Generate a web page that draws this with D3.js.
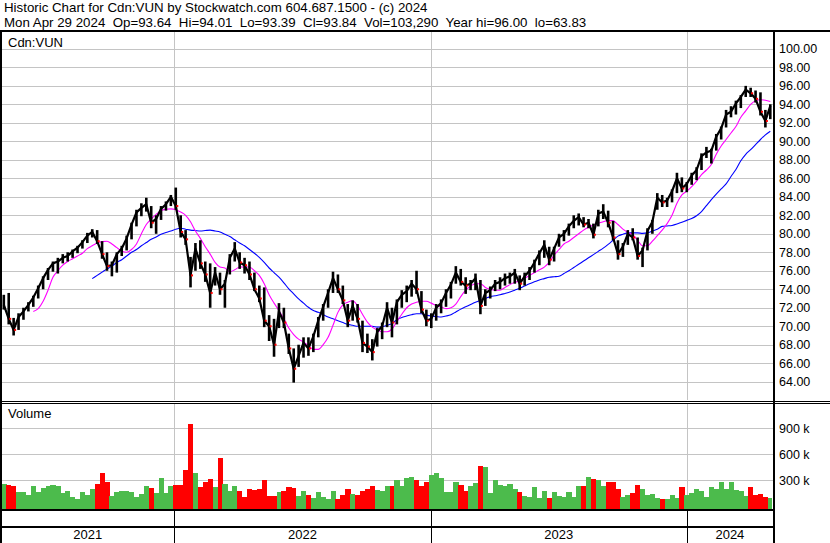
<!DOCTYPE html>
<html lang="en">
<head>
<meta charset="utf-8" />
<title>Historic Chart for Cdn:VUN</title>
<script src="https://cdn.jsdelivr.net/npm/d3@7"></script>
<style>
  body { margin: 0; background: #fff; }
  svg  { display: block; font-family: "Liberation Sans", Arial, sans-serif; }
  .hdr { font-size: 13.3px; fill: #000; white-space: pre; }
  .lbl { font-size: 13px; fill: #000; }
  .axis text { font-size: 12.5px; fill: #000; font-family: "Liberation Sans", Arial, sans-serif; }
  .axis path, .axis line { display: none; }
  .grid { stroke: #c4c4c4; stroke-width: 1; shape-rendering: crispEdges; }
  .frame { stroke: #000; shape-rendering: crispEdges; }
</style>
</head>
<body>
<svg id="chart" width="830" height="543"></svg>
<script>
// weekly bars, first point = week of May 3 2021, last = Apr 29 2024
const firstWeek = new Date(2021, 4, 3);

const highs = [
  73.4, 73.6, 70.9, 71.4, 72.0, 72.6, 73.3, 74.4, 75.4, 76.3,
  77.0, 77.4, 77.8, 78.0, 78.3, 78.7, 79.3, 80.1, 80.5, 80.4,
  79.2, 78.0, 77.0, 78.0, 78.7, 79.8, 81.2, 82.6, 83.3, 83.9,
  83.0, 82.0, 83.0, 83.5, 84.2, 85.0, 82.0, 80.4, 77.5, 79.0,
  79.3, 77.0, 76.8, 76.4, 75.8, 75.0, 77.8, 79.1, 78.0, 77.4,
  77.0, 75.8, 74.4, 74.2, 71.2, 70.8, 72.5, 72.0, 69.2, 67.6,
  68.0, 68.8, 68.8, 69.2, 71.0, 72.4, 74.0, 75.9, 75.6, 74.4,
  72.4, 72.8, 72.4, 70.6, 69.2, 68.6, 69.8, 70.4, 72.6, 72.0,
  72.9, 73.9, 74.4, 75.0, 76.0, 73.8, 71.8, 71.4, 72.4, 72.9,
  74.0, 74.8, 76.5, 76.2, 75.3, 75.0, 75.7, 75.0, 74.0, 74.3,
  75.0, 75.3, 75.7, 75.8, 76.2, 75.5, 75.8, 76.4, 77.2, 78.2,
  79.3, 78.6, 78.6, 80.0, 80.4, 81.1, 82.0, 82.2, 81.8, 81.6,
  81.1, 82.6, 83.2, 82.5, 81.4, 79.3, 79.0, 80.4, 80.6, 79.6,
  78.5, 80.6, 81.5, 84.4, 84.2, 83.9, 84.8, 86.6, 86.1, 85.6,
  86.6, 87.2, 88.7, 89.4, 89.2, 90.8, 91.6, 93.4, 93.8, 94.4,
  95.0, 96.0, 95.8, 95.5, 95.3, 93.4, 94.01
];
const lows = [
  71.8, 70.2, 69.0, 69.6, 70.7, 71.6, 72.1, 73.0, 74.0, 75.0,
  75.9, 75.7, 76.8, 77.0, 77.4, 77.9, 78.4, 79.0, 79.6, 78.9,
  77.3, 76.0, 75.4, 75.8, 77.6, 78.2, 79.4, 80.8, 81.9, 82.4,
  80.6, 80.0, 81.5, 82.5, 83.0, 82.6, 79.6, 78.8, 74.2, 76.0,
  76.2, 74.8, 72.0, 74.4, 73.4, 72.0, 75.6, 77.0, 76.2, 75.7,
  75.0, 73.8, 72.6, 69.9, 68.4, 66.7, 69.8, 69.8, 67.0, 63.9,
  65.6, 66.6, 66.8, 67.2, 68.8, 70.6, 72.0, 73.6, 73.6, 72.4,
  69.9, 70.6, 70.4, 67.2, 67.1, 66.3, 67.8, 68.6, 69.9, 68.8,
  70.2, 72.0, 72.6, 73.2, 73.5, 71.4, 70.0, 69.8, 70.6, 71.4,
  72.1, 73.0, 74.6, 74.4, 73.5, 73.9, 73.9, 71.3, 72.2, 73.0,
  73.8, 74.0, 74.4, 74.6, 74.6, 73.9, 74.4, 75.0, 75.8, 76.6,
  77.4, 76.6, 77.0, 78.6, 79.2, 79.8, 80.6, 80.9, 80.7, 80.6,
  79.5, 80.8, 81.6, 80.7, 79.3, 77.2, 77.5, 78.8, 79.3, 77.2,
  76.4, 78.2, 80.0, 82.6, 82.9, 82.9, 83.4, 84.4, 84.5, 84.5,
  85.3, 85.8, 86.9, 88.2, 87.6, 89.0, 90.2, 91.5, 92.6, 92.9,
  93.6, 94.8, 94.8, 94.2, 92.8, 91.5, 92.4
];
const closes = [
  72.3, 70.8, 69.6, 71.0, 71.6, 72.3, 73.1, 74.1, 75.2, 76.1,
  76.8, 77.0, 77.4, 77.6, 78.1, 78.5, 79.1, 79.8, 80.2, 79.2,
  77.8, 76.5, 76.6, 77.8, 78.4, 79.5, 81.0, 82.3, 82.8, 83.2,
  81.2, 81.6, 82.7, 83.2, 84.0, 83.0, 80.2, 79.4, 75.5, 78.4,
  76.8, 75.6, 73.6, 75.8, 74.0, 74.6, 77.4, 78.4, 76.9, 76.6,
  75.6, 74.0, 73.0, 70.6, 70.0, 68.0, 71.6, 70.4, 67.6, 65.4,
  66.8, 68.2, 67.6, 68.9, 70.6, 72.1, 73.6, 75.2, 74.0, 72.8,
  70.6, 72.2, 70.8, 68.2, 67.8, 67.2, 69.4, 70.0, 72.0, 70.4,
  72.6, 73.4, 73.8, 74.6, 74.0, 71.8, 70.6, 70.8, 72.0, 72.5,
  73.6, 74.5, 75.8, 74.8, 74.4, 74.6, 75.2, 72.2, 73.6, 73.9,
  74.6, 74.8, 75.2, 75.4, 75.8, 74.6, 75.4, 76.0, 76.9, 77.9,
  78.8, 77.2, 78.4, 79.6, 80.0, 80.8, 81.4, 81.8, 81.0, 81.2,
  79.9, 82.2, 82.4, 81.2, 79.6, 77.8, 78.6, 80.0, 79.6, 77.6,
  78.2, 80.3, 81.3, 83.9, 83.4, 83.6, 84.6, 86.0, 84.9, 85.4,
  86.3, 86.9, 88.4, 88.8, 89.0, 90.5, 91.4, 92.9, 93.2, 94.1,
  94.8, 95.6, 95.2, 94.6, 93.2, 92.2, 93.84
];
// thousands of shares
const volumes = [
  260, 250, 230, 160, 170, 130, 240, 160, 210, 230,
  250, 240, 150, 180, 110, 90, 170, 130, 200, 260,
  380, 280, 120, 170, 180, 180, 170, 110, 140, 230,
  210, 150, 330, 150, 240, 250, 250, 420, 950, 380,
  220, 280, 320, 220, 560, 260, 180, 240, 180, 110,
  200, 190, 200, 300, 120, 120, 160, 180, 220, 210,
  120, 180, 130, 100, 160, 110, 90, 180, 90, 130,
  200, 140, 130, 180, 200, 240, 190, 180, 230, 240,
  300, 230, 330, 340, 300, 240, 280, 360, 380, 330,
  160, 170, 280, 250, 180, 240, 270, 460, 450, 150,
  300, 250, 230, 260, 200, 160, 120, 110, 220, 100,
  180, 100, 170, 120, 110, 170, 110, 230, 240, 340,
  320, 300, 240, 280, 280, 200, 110, 130, 150, 250,
  200, 130, 140, 100, 90, 90, 130, 100, 220, 130,
  150, 200, 180, 110, 220, 200, 280, 200, 280, 190,
  180, 120, 220, 130, 140, 110, 100
];
const maFast = [
  null, null, null, null, null, null, 71.6, 71.9, 72.7, 73.9,
  75.3, 76.0, 76.6, 77.0, 77.3, 77.6, 77.9, 78.4, 78.7, 79.0,
  79.15, 79.2, 78.9, 78.5, 78.15, 78.0, 78.3, 78.9, 80.0, 81.0,
  81.6, 82.1, 82.5, 82.65, 82.7, 82.6, 82.35, 82.0, 81.3, 80.3,
  79.5, 78.6, 77.8, 76.9, 76.4, 76.3, 75.9, 76.1, 76.4, 76.4,
  76.4, 76.0, 75.5, 74.6, 73.4, 72.5, 71.7, 70.8, 69.8, 69.1,
  68.6, 68.3, 67.9, 67.5, 67.5, 68.0, 68.8, 70.1, 71.5, 72.3,
  72.6, 72.75, 72.2, 71.3, 70.45, 69.9, 69.6, 69.4, 69.4, 69.7,
  70.5, 71.3, 72.0, 72.4, 72.6, 72.7, 72.7, 72.5, 72.25, 72.1,
  71.9, 72.0, 72.4, 73.2, 73.9, 74.35, 74.6, 74.6, 74.2, 74.0,
  73.9, 73.9, 74.2, 74.5, 74.75, 74.9, 75.2, 75.5, 75.8, 76.1,
  76.4, 76.9, 77.7, 78.3, 78.9, 79.2, 79.6, 80.0, 80.4, 80.7,
  80.95, 81.15, 81.3, 81.45, 81.4, 81.0, 80.5, 80.15, 79.9, 79.3,
  78.7, 78.7, 79.2, 79.8, 80.4, 81.1, 82.0, 83.3, 84.2, 84.6,
  85.1, 85.7, 86.4, 86.9, 87.5, 88.6, 89.5, 90.2, 90.9, 91.6,
  92.6, 93.3, 94.0, 94.4, 94.5, 94.45, 94.3
];
const maSlow = [
  null, null, null, null, null, null, null, null, null, null,
  null, null, null, null, null, null, null, null, 75.15, 75.5,
  75.85, 76.2, 76.5, 76.9, 77.2, 77.6, 78.0, 78.3, 78.7, 79.05,
  79.4, 79.65, 79.95, 80.15, 80.3, 80.5, 80.6, 80.5, 80.4, 80.35,
  80.3, 80.35, 80.4, 80.3, 80.2, 79.95, 79.7, 79.35, 79.0, 78.7,
  78.3, 77.9, 77.45, 76.9, 76.3, 75.8, 75.3, 74.7, 74.05, 73.5,
  72.95, 72.5, 72.05, 71.7, 71.5, 71.25, 71.0, 70.8, 70.6, 70.4,
  70.2, 70.1, 70.0, 70.0, 70.0, 70.0, 69.9, 69.95, 70.1, 70.3,
  70.7, 70.95, 71.1, 71.25, 71.35, 71.35, 71.2, 71.1, 71.05, 71.0,
  71.1, 71.25, 71.55, 71.85, 72.1, 72.35, 72.6, 72.8, 73.0, 73.2,
  73.3, 73.4, 73.55, 73.7, 73.9, 74.1, 74.35, 74.6, 74.8, 75.0,
  75.15, 75.3, 75.35, 75.4, 75.7, 76.0, 76.35, 76.7, 77.05, 77.4,
  77.75, 78.1, 78.45, 78.85, 79.3, 79.75, 79.95, 80.1, 80.1, 80.1,
  80.05, 80.1, 80.3, 80.5, 80.8, 80.85, 80.9, 81.05, 81.25, 81.45,
  81.65, 81.95, 82.4, 83.05, 83.7, 84.3, 84.85, 85.4, 86.2, 86.95,
  87.9, 88.6, 89.1, 89.65, 90.2, 90.7, 91.1
];

const priceTicks = d3.range(64, 101, 2);
const volTicks = [300, 600, 900];
const years = [2021, 2022, 2023, 2024];
const headerLines = [
  'Historic Chart for Cdn:VUN by Stockwatch.com 604.687.1500 - (c) 2024',
  'Mon Apr 29 2024  Op=93.64  Hi=94.01  Lo=93.39  Cl=93.84  Vol=103,290  Year hi=96.00  lo=63.83'
];

const weeks = closes.map((c, i) => ({
  date: d3.timeDay.offset(firstWeek, 7 * i),
  hi: highs[i], lo: lows[i], close: c,
  vol: volumes[i], up: i === 0 ? true : c >= closes[i - 1],
  ma1: maFast[i], ma2: maSlow[i]
}));

const W = 830, H = 543;
const plotL = 1, plotR = 773;
const priceTop = 32, priceBot = 400;
const volTop = 404, volBot = 509;

const x = d3.scaleTime()
  .domain([new Date(2021, 3, 29), new Date(2024, 3, 30)])
  .range([1, 771]);
const y = d3.scaleLinear().domain([64, 100]).range([381.7, 48.9]);
const yVol = d3.scaleLinear().domain([0, 900]).range([506.3, 428.3]);

const svg = d3.select('#chart');
svg.append('rect').attr('width', W).attr('height', H).attr('fill', '#fff');

const defs = svg.append('defs');
defs.append('clipPath').attr('id', 'clipPrice').append('rect')
  .attr('x', plotL + 1).attr('y', priceTop).attr('width', plotR - plotL - 2).attr('height', priceBot - priceTop);
defs.append('clipPath').attr('id', 'clipVol').append('rect')
  .attr('x', plotL + 1).attr('y', volTop).attr('width', plotR - plotL - 2).attr('height', volBot - volTop);

/* ---- header ---- */
svg.selectAll('text.hdr').data(headerLines).join('text')
  .attr('class', 'hdr').attr('x', 4).attr('y', (d, i) => 12 + i * 14.5)
  .text(d => d);

/* ---- grids ---- */
const yearStarts = years.slice(1).map(yr => new Date(yr, 0, 1));

svg.append('g').selectAll('line').data(priceTicks).join('line')
  .attr('class', 'grid')
  .attr('x1', plotL).attr('x2', plotR)
  .attr('y1', d => Math.round(y(d)) + 0.5).attr('y2', d => Math.round(y(d)) + 0.5);

svg.append('g').selectAll('line').data(volTicks).join('line')
  .attr('class', 'grid')
  .attr('x1', plotL).attr('x2', plotR)
  .attr('y1', d => Math.round(yVol(d)) + 0.5).attr('y2', d => Math.round(yVol(d)) + 0.5);

svg.append('g').selectAll('line').data(yearStarts).join('line')
  .attr('class', 'grid')
  .attr('x1', d => Math.round(x(d)) + 0.5).attr('x2', d => Math.round(x(d)) + 0.5)
  .attr('y1', priceTop).attr('y2', priceBot);
svg.append('g').selectAll('line').data(yearStarts).join('line')
  .attr('class', 'grid')
  .attr('x1', d => Math.round(x(d)) + 0.5).attr('x2', d => Math.round(x(d)) + 0.5)
  .attr('y1', volTop).attr('y2', volBot);

/* ---- moving averages ---- */
const gPrice = svg.append('g').attr('clip-path', 'url(#clipPrice)');

const maLine = key => d3.line()
  .defined(d => d[key] != null)
  .x(d => x(d.date)).y(d => y(d[key]))
  .curve(d3.curveMonotoneX);

gPrice.append('path').datum(weeks)
  .attr('d', maLine('ma2')).attr('fill', 'none')
  .attr('stroke', '#0000ff').attr('stroke-width', 1.1);
gPrice.append('path').datum(weeks)
  .attr('d', maLine('ma1')).attr('fill', 'none')
  .attr('stroke', '#ff00ff').attr('stroke-width', 1.1);

/* ---- price bars ---- */
gPrice.append('path').datum(weeks)
  .attr('d', d3.line().x(d => x(d.date)).y(d => y(d.close)))
  .attr('fill', 'none').attr('stroke', '#000').attr('stroke-width', 2.2)
  .attr('stroke-linejoin', 'round');

gPrice.selectAll('line.bar').data(weeks).join('line')
  .attr('class', 'bar')
  .attr('x1', d => x(d.date)).attr('x2', d => x(d.date))
  .attr('y1', d => y(d.hi)).attr('y2', d => y(d.lo))
  .attr('stroke', '#000').attr('stroke-width', 2.6);

gPrice.selectAll('rect.tick').data(weeks.filter(d => !d.up)).join('rect')
  .attr('class', 'tick')
  .attr('x', d => x(d.date) + 0.5).attr('y', d => y(d.close) - 1)
  .attr('width', 2).attr('height', 2).attr('fill', '#ff0000');

/* ---- volume ---- */
const gVol = svg.append('g').attr('clip-path', 'url(#clipVol)');
const barW = x(d3.timeDay.offset(firstWeek, 7)) - x(firstWeek);
gVol.selectAll('rect').data(weeks).join('rect')
  .attr('x', d => x(d.date) - barW / 2).attr('width', barW + 0.3)
  .attr('y', d => yVol(d.vol)).attr('height', d => volBot - yVol(d.vol))
  .attr('fill', d => d.up ? '#4cbb4c' : '#ff0000')
  .attr('shape-rendering', 'crispEdges');

/* ---- panel labels ---- */
svg.append('text').attr('class', 'lbl').attr('x', 8).attr('y', 47).text('Cdn:VUN');
svg.append('text').attr('class', 'lbl').attr('x', 8).attr('y', 418).text('Volume');

/* ---- right axes ---- */
svg.append('g').attr('class', 'axis')
  .attr('transform', `translate(${plotR},0)`)
  .call(d3.axisRight(y).tickValues(priceTicks).tickFormat(d3.format('.2f')).tickSize(0).tickPadding(6));
svg.append('g').attr('class', 'axis')
  .attr('transform', `translate(${plotR},0)`)
  .call(d3.axisRight(yVol).tickValues(volTicks).tickFormat(d => d + ' k').tickSize(0).tickPadding(6));

/* ---- date row ---- */
const bounds = [plotL].concat(yearStarts.map(d => x(d)), [plotR]);
svg.append('g').selectAll('text').data(years).join('text')
  .attr('class', 'lbl').attr('text-anchor', 'middle')
  .attr('x', (d, i) => (bounds[i] + bounds[i + 1]) / 2)
  .attr('y', 539).text(d => d);
svg.append('g').selectAll('line').data(yearStarts).join('line')
  .attr('class', 'frame')
  .attr('x1', d => Math.round(x(d)) + 0.5).attr('x2', d => Math.round(x(d)) + 0.5)
  .attr('y1', volBot).attr('y2', H);

/* ---- frame lines ---- */
const frame = svg.append('g').attr('class', 'frame');
frame.append('line').attr('x1', 0).attr('x2', W).attr('y1', 30.5).attr('y2', 30.5).attr('stroke-width', 2);
frame.append('line').attr('x1', 0).attr('x2', W).attr('y1', 401.5).attr('y2', 401.5);
frame.append('line').attr('x1', 0).attr('x2', W).attr('y1', 403.5).attr('y2', 403.5);
frame.append('line').attr('x1', 0).attr('x2', plotR).attr('y1', 510).attr('y2', 510).attr('stroke-width', 2);
frame.append('line').attr('x1', 0).attr('x2', plotR).attr('y1', 527).attr('y2', 527).attr('stroke-width', 2);
frame.append('line').attr('x1', 1).attr('x2', 1).attr('y1', 30).attr('y2', H).attr('stroke-width', 2);
frame.append('line').attr('x1', plotR + 1).attr('x2', plotR + 1).attr('y1', 30).attr('y2', H).attr('stroke-width', 2);
</script>
</body>
</html>
